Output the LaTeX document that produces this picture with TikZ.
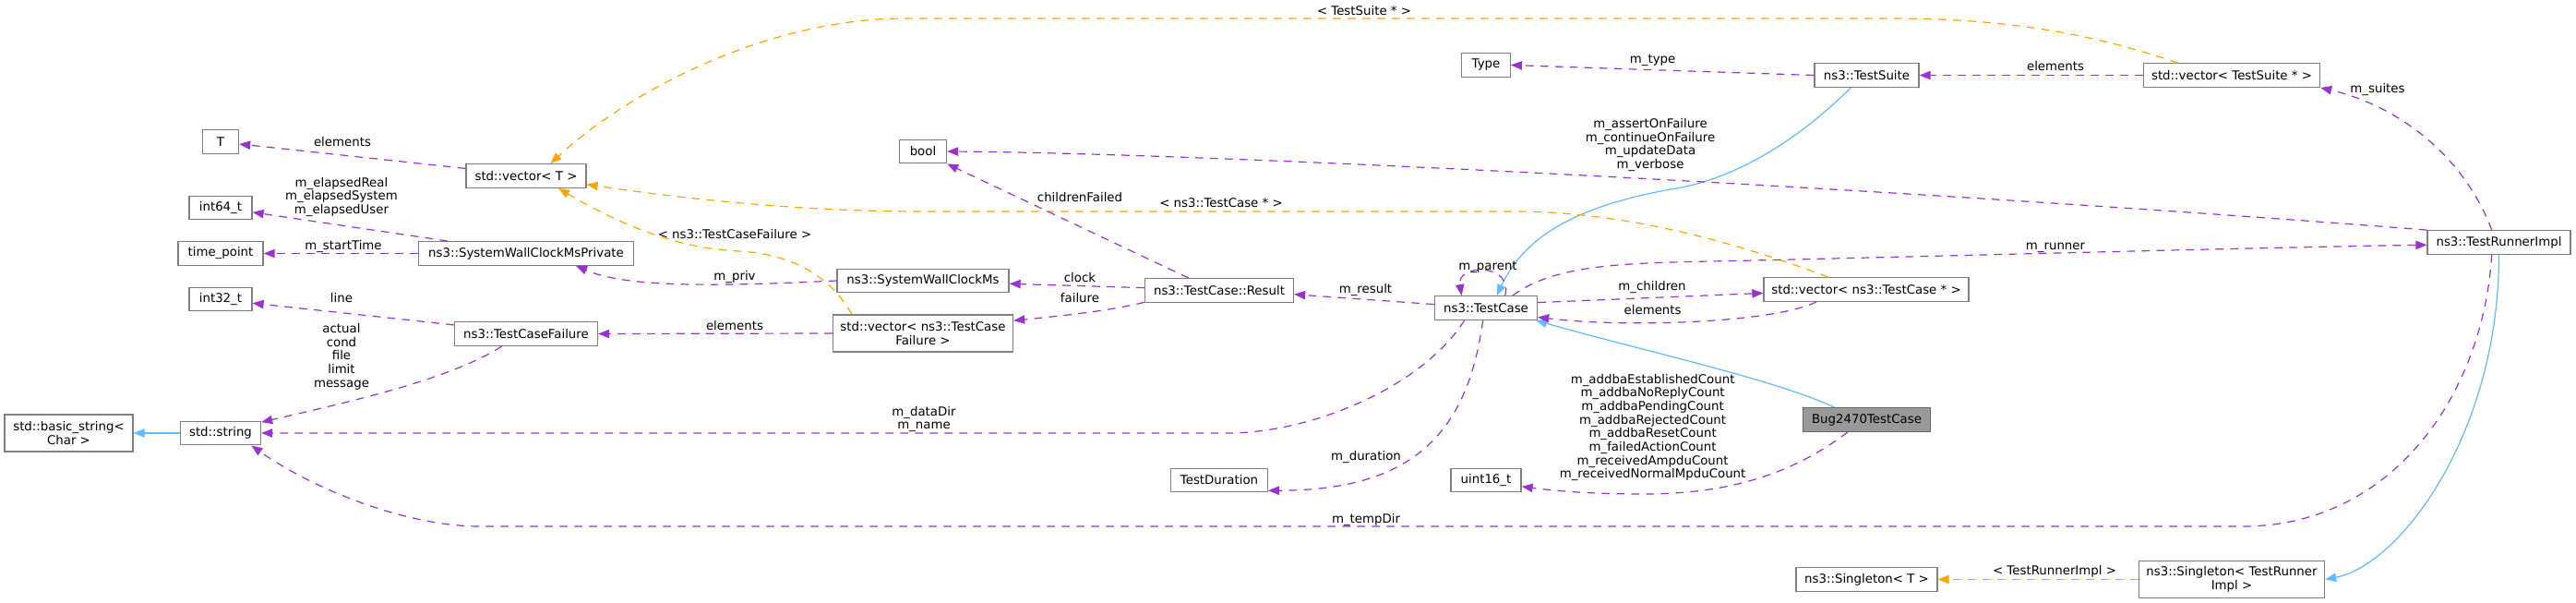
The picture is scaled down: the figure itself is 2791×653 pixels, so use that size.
\documentclass[tikz,border=0pt]{standalone}
\usepackage{fontspec}
\setmainfont{DejaVu Sans}
\usetikzlibrary{arrows.meta}
\definecolor{usagepurple}{HTML}{9A32CD}
\definecolor{tmplorange}{HTML}{FFA500}
\definecolor{inheritblue}{HTML}{63B8FF}
\definecolor{boxgray}{HTML}{7F7F7F}
\definecolor{focusgray}{HTML}{999999}
\definecolor{focusedge}{HTML}{666666}
\tikzset{
  basic/.style   = {draw=boxgray, line width=1pt, rectangle, fill=white, font=\fontsize{10}{11}\selectfont, align=center, inner xsep=2pt, inner ysep=1pt, minimum height=19.2pt},
  member/.style  = {basic},
  twoline/.style = {basic, minimum height=30pt},
  focus/.style   = {basic, fill=focusgray, draw=focusedge},
  lbl/.style     = {font=\fontsize{10}{11}\selectfont, align=center, inner sep=0pt},
  usage/.style   = {->, draw=usagepurple, line width=0.9pt, dash pattern=on 6.5pt off 5.5pt},
  templ/.style   = {->, draw=tmplorange, line width=0.9pt, dash pattern=on 6.5pt off 5.5pt},
  inherit/.style = {->, draw=inheritblue, line width=0.9pt}
}
\begin{document}
\begin{tikzpicture}[
  x=0.75pt, y=-0.75pt,
  >={Triangle[length=9pt,width=7pt]}]
\useasboundingbox (0,0) rectangle (2791,653);

% first columns, plain types
\node[twoline, minimum width=104.25pt] (bstr) at (74.5,469) {std::basic\_string<\\ Char >};
\node[member, minimum width=65.25pt] (str) at (239,469) {std::string};
\node[member, minimum width=29.25pt] (t) at (239,153.5) {T};
\node[member, minimum width=51pt] (i64) at (239,225) {int64\_t};
\node[member, minimum width=69pt] (tp) at (239,274.5) {time\_point};
\node[member, minimum width=51pt] (i32) at (239,324) {int32\_t};

% helpers of the test case
\node[member, minimum width=97.5pt] (vect) at (570,190.5) {std::vector< T >};
\node[member, minimum width=174.75pt] (swcmp) at (570,274.5) {ns3::SystemWallClockMsPrivate};
\node[member, minimum width=116.25pt] (tcf) at (570,361.5) {ns3::TestCaseFailure};
\node[member, minimum width=38.25pt] (bool) at (1000,164) {bool};
\node[member, minimum width=139.5pt] (swcm) at (1000,304) {ns3::SystemWallClockMs};
\node[twoline, minimum width=146.25pt] (vtcf) at (1000,361) {std::vector< ns3::TestCase\\ Failure >};
\node[member, minimum width=120.75pt] (res) at (1321,314.5) {ns3::TestCase::Result};
\node[member, minimum width=78.4pt] (dur) at (1321,520) {TestDuration};

% test case, suite and runner
\node[member, minimum width=39.4pt] (type) at (1610,70.5) {Type};
\node[member, minimum width=83.25pt] (tc) at (1610,333.5) {ns3::TestCase};
\node[member, minimum width=57pt] (u16) at (1610,520) {uint16\_t};
\node[member, minimum width=84.75pt] (suite) at (2022.5,81.5) {ns3::TestSuite};
\node[member, minimum width=166.5pt] (vtc) at (2022,313.5) {std::vector< ns3::TestCase * >};
\node[focus, minimum width=103.5pt] (bug) at (2022.5,454.5) {Bug2470TestCase};
\node[member, minimum width=114.75pt] (sgt) at (2022.5,627.5) {ns3::Singleton< T >};
\node[member, minimum width=143.25pt] (vts) at (2418,81.5) {std::vector< TestSuite * >};
\node[twoline, minimum width=150.75pt] (sgr) at (2418,627.5) {ns3::Singleton< TestRunner\\ Impl >};
\node[member, minimum width=116.25pt] (runner) at (2707.5,262.5) {ns3::TestRunnerImpl};

% inheritance
\draw[inherit] (str.west) -- (bstr.east);
\draw[inherit] (suite.218) .. controls (1950,150) and (1880,195) .. (1810,205) .. controls (1700,225) and (1650,260) .. (tc.49);
\draw[inherit] (bug.159) .. controls (1920,410) and (1780,380) .. (tc.346);
\draw[inherit] (runner.south) .. controls (2707.5,470) and (2600,612) .. (sgr.east);

% template instances
\draw[templ] (vts.167) .. controls (2290,45) and (2200,20) .. (2050,20) -- (980,20) .. controls (830,20) and (680,100) .. (vect.27);
\draw[templ] (vtc.162) .. controls (1880,262) and (1760,229) .. (1640,229) -- (1000,229) .. controls (880,229) and (760,218) .. (vect.352);
\draw[templ] (vtcf.165) .. controls (900,300) and (860,275) .. (800,272) .. controls (760,270) and (700,260) .. (vect.339);
\draw[templ] (sgr.west) -- (sgt.east);

% members
\draw[usage] (vect.173) -- (t.353);
\draw[usage] (swcmp.171) -- (i64.352);
\draw[usage] (swcmp.west) -- (tp.east);
\draw[usage] (tcf.173) -- (i32.353);
\draw[usage] (tcf.207) .. controls (490,410) and (380,435) .. (str.15);
\draw[usage] (runner.north west) .. controls (2000,200) and (1300,166) .. (bool.east);
\draw[usage] (res.158) -- (bool.south east);
\draw[usage] (swcm.west) .. controls (780,310) and (680,312) .. (swcmp.346);
\draw[usage] (res.178) -- (swcm.358);
\draw[usage] (res.189) .. controls (1200,337) and (1150,342) .. (vtcf.8);
\draw[usage] (vtcf.west) -- (tcf.east);
\draw[usage] (tc.176) -- (res.357);
\draw[usage] (tc.210) .. controls (1540,420) and (1420,469) .. (1330,469) -- (str.east);
\draw[usage] (tc.256) .. controls (1590,470) and (1530,531) .. (dur.348);
\draw[usage] (runner.240) .. controls (2690,430) and (2590,570) .. (2430,570) -- (520,570) .. controls (440,570) and (340,530) .. (str.338);
\draw[usage] (tc.33) .. controls (1640,285) and (1578,285) .. (tc.153);
\draw[usage] (tc.6) -- (vtc.182);
\draw[usage] (vtc.194) .. controls (1920,350) and (1760,355) .. (tc.350);
\draw[usage] (tc.25) .. controls (1690,282) and (1780,285) .. (1900,282) .. controls (2200,275) and (2450,268) .. (runner.182);
\draw[usage] (runner.120) .. controls (2670,170) and (2600,115) .. (vts.south east);
\draw[usage] (vts.west) -- (suite.east);
\draw[usage] (suite.west) -- (type.east);
\draw[usage] (bug.213) .. controls (1940,515) and (1870,535) .. (1780,535) .. controls (1720,535) and (1680,531) .. (u16.350);

% edge labels
\node[lbl] (l1) at (371,154) {elements};
\node[lbl] (l2) at (370,213.5) {m\_elapsedReal\\m\_elapsedSystem\\m\_elapsedUser};
\node[lbl] (l3) at (372,267) {m\_startTime};
\node[lbl] (l4) at (370,323) {line};
\node[lbl] (l5) at (370,386) {actual\\cond\\file\\limit\\message};
\node[lbl] (l6) at (796,353) {elements};
\node[lbl] (l7) at (796,254) {< ns3::TestCaseFailure >};
\node[lbl] (l8) at (796,300) {m\_priv};
\node[lbl] (l9) at (1170,214) {childrenFailed};
\node[lbl] (l10) at (1170,301) {clock};
\node[lbl] (l11) at (1170,323) {failure};
\node[lbl] (l12) at (1323,220) {< ns3::TestCase * >};
\node[lbl] (l13) at (1001,454) {m\_dataDir\\m\_name};
\node[lbl] (l14) at (1478,12) {< TestSuite * >};
\node[lbl] (l15) at (1790.6,65) {m\_type};
\node[lbl] (l16) at (1788,157) {m\_assertOnFailure\\m\_continueOnFailure\\m\_updateData\\m\_verbose};
\node[lbl] (l17) at (1612,289) {m\_parent};
\node[lbl] (l18) at (1479.5,314) {m\_result};
\node[lbl] (l19) at (1790,311) {m\_children};
\node[lbl] (l20) at (1790.6,335.7) {elements};
\node[lbl] (l21) at (1790.6,463) {m\_addbaEstablishedCount\\m\_addbaNoReplyCount\\m\_addbaPendingCount\\m\_addbaRejectedCount\\m\_addbaResetCount\\m\_failedActionCount\\m\_receivedAmpduCount\\m\_receivedNormalMpduCount};
\node[lbl] (l22) at (1480,494.7) {m\_duration};
\node[lbl] (l23) at (1480,562.7) {m\_tempDir};
\node[lbl] (l24) at (2227,72) {elements};
\node[lbl] (l25) at (2576,97) {m\_suites};
\node[lbl] (l26) at (2227,268) {m\_runner};
\node[lbl] (l27) at (2226,619) {< TestRunnerImpl >};
\end{tikzpicture}
\end{document}
